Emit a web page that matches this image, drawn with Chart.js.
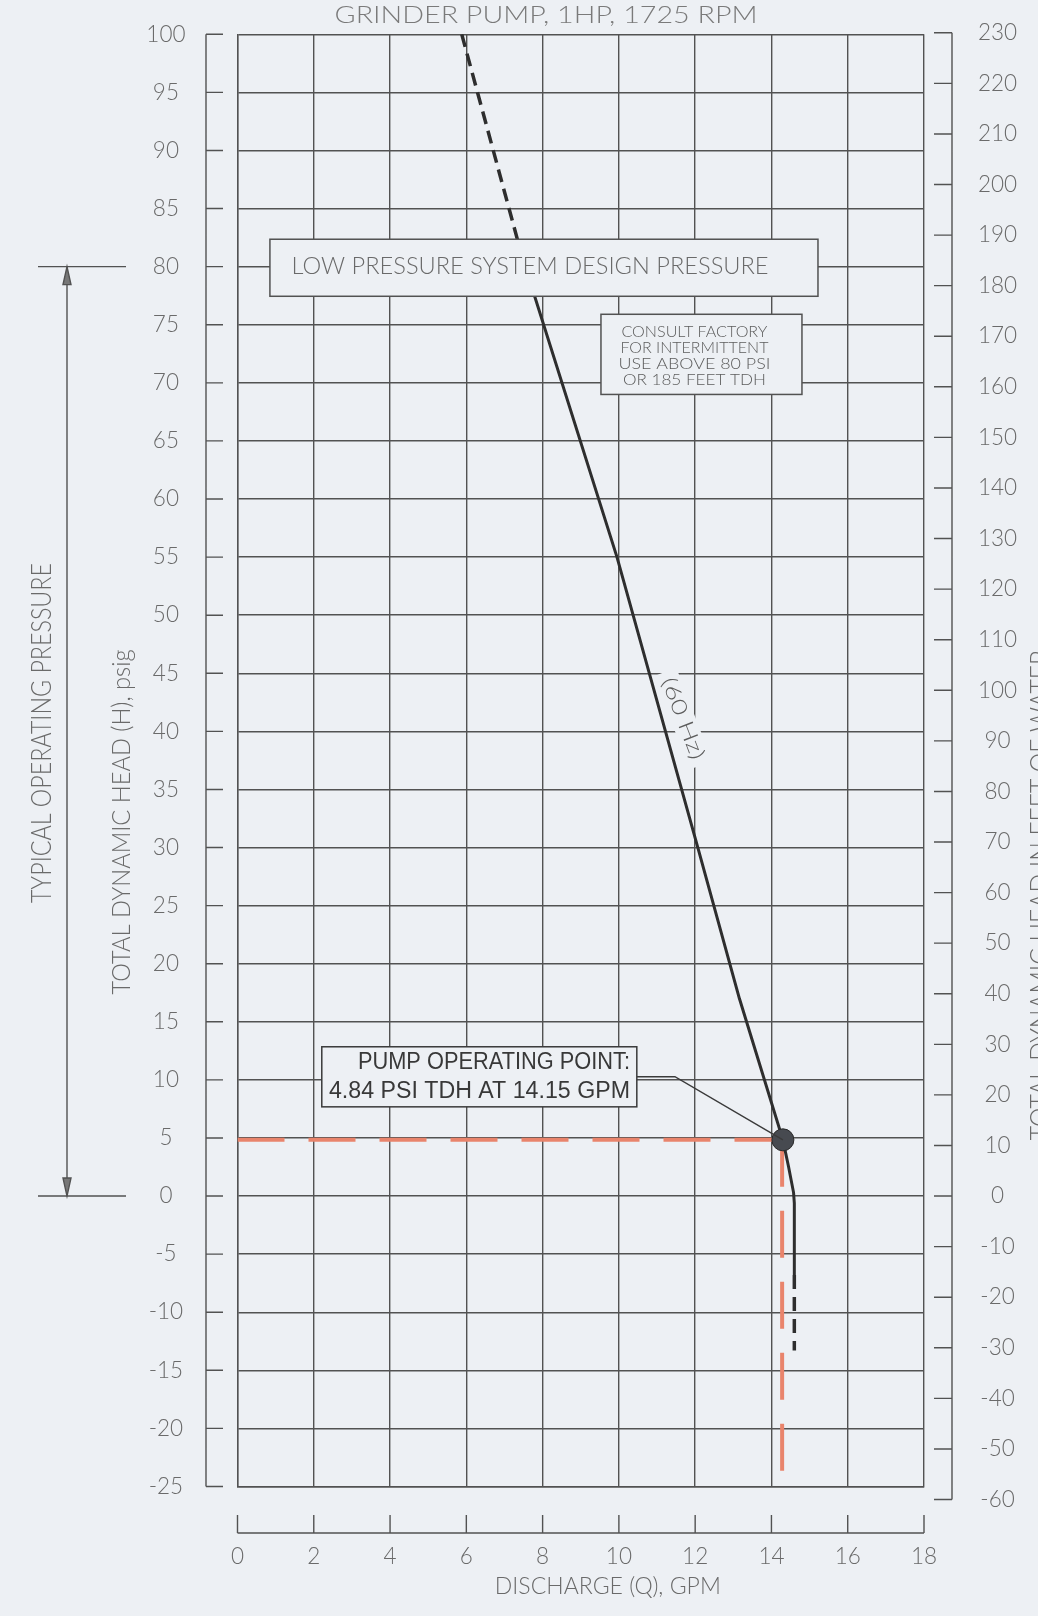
<!DOCTYPE html>
<html>
<head>
<meta charset="utf-8">
<title>Grinder pump curve</title>
<script src="https://cdn.jsdelivr.net/npm/chart.js@4.4.1/dist/chart.umd.min.js"></script>
<style>
  html, body { margin: 0; padding: 0; background: #edf0f4; }
  #wrap { width: 1038px; height: 1616px; position: relative; }
</style>
</head>
<body>
<div id="wrap"><canvas id="pump-chart"></canvas></div>
<script>
// values: discharge in GPM, head in psig
const curveSolid = [
  [7.45, 81], [9.95, 55], [12.07, 30], [13.16, 17], [14.3, 4.84],
  [14.45, 2.5], [14.58, 0.3], [14.6, -0.6], [14.6, -6.8]
];
const curveTopDashed = [[5.88, 100], [7.45, 81]];
const curveBottomDashed = [[14.6, -6.8], [14.6, -13.3]];
const operatingPoint = [[14.3, 4.84]];
const guideHorizontal = [[0, 4.84], [14.28, 4.84]];
const guideVertical = [[14.28, 4.84], [14.28, -25]];

const gpmTicks = [0, 2, 4, 6, 8, 10, 12, 14, 16, 18];
const psiTicks = [-25, -20, -15, -10, -5, 0, 5, 10, 15, 20, 25, 30, 35, 40, 45, 50, 55, 60, 65, 70, 75, 80, 85, 90, 95, 100];
const feetTicks = [-60, -50, -40, -30, -20, -10, 0, 10, 20, 30, 40, 50, 60, 70, 80, 90, 100, 110, 120, 130, 140, 150, 160, 170, 180, 190, 200, 210, 220, 230];
const FEET_PER_PSI = 2.297;
const designPressure = 80;

const titleText = 'GRINDER PUMP, 1HP, 1725 RPM';
const xTitle = 'DISCHARGE (Q), GPM';
const yTitle = 'TOTAL DYNAMIC HEAD (H), psig';
const y2Title = 'TOTAL DYNAMIC HEAD IN FEET OF WATER';
const rangeTitle = 'TYPICAL OPERATING PRESSURE';
const designNote = 'LOW PRESSURE SYSTEM DESIGN PRESSURE';
const consultNote = ['CONSULT FACTORY', 'FOR INTERMITTENT', 'USE ABOVE 80 PSI', 'OR 185 FEET TDH'];
const opNote = ['PUMP OPERATING POINT:', '4.84 PSI TDH AT 14.15 GPM'];
const curveLabel = '(60 Hz)';

const paper = '#edf0f4';
const ink = '#525252';
const cadText = '#6a6a6a';
const cadFont = size => `300 ${size}px Lato, "DejaVu Sans", sans-serif`;
const guideColor = '#e9846c';

const toPoints = arr => arr.map(([x, y]) => ({ x, y }));

// draws text squeezed/stretched to a given width, like the CAD lettering
const fitText = (ctx, text, cx, cy, width, font, color, angle = 0, align = 'center') => {
  ctx.save();
  ctx.font = font;
  ctx.fillStyle = color;
  ctx.textAlign = align;
  ctx.textBaseline = 'middle';
  ctx.translate(cx, cy);
  ctx.rotate(angle);
  const w = ctx.measureText(text).width;
  ctx.scale(width / w, 1);
  ctx.fillText(text, 0, 0);
  ctx.restore();
};

const boxAt = (ctx, x1, y1, x2, y2, stroke) => {
  ctx.fillStyle = paper;
  ctx.fillRect(x1, y1, x2 - x1, y2 - y1);
  ctx.strokeStyle = stroke || ink;
  ctx.lineWidth = 1.5;
  ctx.strokeRect(x1, y1, x2 - x1, y2 - y1);
};

const noScalePadding = s => {
  s.paddingTop = 0;
  s.paddingBottom = 0;
  s.paddingLeft = 0;
  s.paddingRight = 0;
};

const paperBackground = {
  id: 'paperBackground',
  beforeDraw(chart) {
    const ctx = chart.ctx;
    ctx.save();
    ctx.fillStyle = paper;
    ctx.fillRect(0, 0, chart.width, chart.height);
    ctx.restore();
  }
};

const drawingNotes = {
  id: 'drawingNotes',
  afterDraw(chart) {
    const { ctx, chartArea: area, scales } = chart;
    const px = v => scales.x.getPixelForValue(v);
    const py = v => scales.y.getPixelForValue(v);
    const pf = v => scales.y2.getPixelForValue(v);
    ctx.save();
    ctx.strokeStyle = ink;
    ctx.lineWidth = 1.4;

    // detached left axis
    const lx = area.left - 31.5;
    ctx.beginPath();
    ctx.moveTo(lx, py(100));
    ctx.lineTo(lx, py(-25));
    psiTicks.forEach(v => { ctx.moveTo(lx, py(v)); ctx.lineTo(lx + 17, py(v)); });
    // detached right axis
    const rx = area.right + 28;
    ctx.moveTo(rx, pf(230));
    ctx.lineTo(rx, pf(-60));
    feetTicks.forEach(v => { ctx.moveTo(rx, pf(v)); ctx.lineTo(rx - 18, pf(v)); });
    // detached bottom axis
    const by = area.bottom + 46.5;
    ctx.moveTo(px(0), by);
    ctx.lineTo(px(18), by);
    gpmTicks.forEach(v => { ctx.moveTo(px(v), by); ctx.lineTo(px(v), by - 18); });
    ctx.stroke();

    // typical operating pressure dimension
    const dx = 67;
    const top = py(designPressure), bot = py(0);
    ctx.beginPath();
    ctx.moveTo(38, top); ctx.lineTo(126, top);
    ctx.moveTo(38, bot); ctx.lineTo(126, bot);
    ctx.moveTo(dx, top); ctx.lineTo(dx, bot);
    ctx.stroke();
    ctx.fillStyle = '#777';
    [[top, 1], [bot, -1]].forEach(([y, d]) => {
      ctx.beginPath();
      ctx.moveTo(dx, y);
      ctx.lineTo(dx - 4, y + d * 18);
      ctx.lineTo(dx + 4, y + d * 18);
      ctx.closePath();
      ctx.fill();
      ctx.stroke();
    });

    // design pressure box
    boxAt(ctx, px(0.85), py(82.36), px(15.22), py(77.45));
    fitText(ctx, designNote, px(7.67), py(designPressure), 477, cadFont(24), cadText);

    // consult factory box
    boxAt(ctx, px(9.53), py(75.9), px(14.8), py(69.0));
    const consultY = [74.35, 72.98, 71.6, 70.2];
    const consultW = [146, 148, 152, 143];
    consultNote.forEach((t, i) => fitText(ctx, t, px(11.98), py(consultY[i]), consultW[i], cadFont(15), '#5c5c5c'));

    // curve label
    const rot = 69 * Math.PI / 180;
    ctx.save();
    ctx.translate(px(11.68), py(41.1));
    ctx.rotate(rot);
    ctx.fillStyle = paper;
    ctx.fillRect(-50, -12, 100, 24);
    ctx.restore();
    fitText(ctx, curveLabel, px(11.68), py(41.1), 86, cadFont(21), '#5c5c5c', rot);

    // operating point leader + box
    ctx.strokeStyle = '#3a3a3a';
    ctx.lineWidth = 1.4;
    ctx.beginPath();
    ctx.moveTo(px(10.47), py(10.27));
    ctx.lineTo(px(11.47), py(10.27));
    ctx.lineTo(px(operatingPoint[0][0]), py(operatingPoint[0][1]));
    ctx.stroke();
    boxAt(ctx, px(2.21), py(12.85), px(10.47), py(7.68), '#3a3a3a');
    const opFont = '23px "Liberation Sans", Arial, sans-serif';
    fitText(ctx, opNote[0], px(10.29), py(11.45), 272, opFont, '#383838', 0, 'right');
    fitText(ctx, opNote[1], px(10.29), py(8.95), 301, opFont, '#383838', 0, 'right');

    // titles
    fitText(ctx, titleText, px(8.09), area.top - 19, 423, cadFont(24), '#7a7a7a');
    fitText(ctx, xTitle, px(9.71), area.bottom + 100, 226, cadFont(24), cadText);
    fitText(ctx, yTitle, area.left - 115.5, py(32.2), 345, cadFont(26), cadText, -Math.PI / 2);
    fitText(ctx, rangeTitle, 42, py(39.85), 340, cadFont(27), cadText, -Math.PI / 2);
    fitText(ctx, y2Title, area.right + 117, py(25.9), 490, cadFont(27), cadText, -Math.PI / 2);
    ctx.restore();
  }
};

const tickFont = { family: 'Lato, "DejaVu Sans", sans-serif', size: 22.5, weight: 300 };
const lineSet = (data, extra) => Object.assign({
  data: toPoints(data), showLine: true, pointRadius: 0, borderColor: '#2e2e2e',
  borderWidth: 3, tension: 0, fill: false
}, extra);

new Chart(document.getElementById('pump-chart'), {
  type: 'scatter',
  data: {
    datasets: [
      { data: toPoints(operatingPoint), showLine: false, pointRadius: 11,
        pointBackgroundColor: '#474a50', pointBorderColor: '#2a2a2a', pointBorderWidth: 1 },
      lineSet(curveSolid),
      lineSet(curveTopDashed, { borderDash: [13, 7], borderWidth: 3.5 }),
      lineSet(curveBottomDashed, { borderDash: [14, 8], borderWidth: 3.5 }),
      lineSet(guideHorizontal, { borderColor: guideColor, borderWidth: 4, borderDash: [47, 24] }),
      lineSet(guideVertical, { borderColor: guideColor, borderWidth: 4, borderDash: [47, 24] })
    ]
  },
  options: {
    responsive: true,
    maintainAspectRatio: false,
    animation: false,
    layout: { padding: { top: 34.3, left: 0, right: 0, bottom: 0 } },
    plugins: { legend: { display: false }, tooltip: { enabled: false } },
    scales: {
      x: {
        type: 'linear', min: 0, max: 18,
        afterBuildTicks: s => { s.ticks = gpmTicks.map(value => ({ value })); },
        afterFit: s => { s.height = 129.5; noScalePadding(s); },
        grid: { color: ink, lineWidth: 1.4, drawTicks: false },
        border: { color: ink, width: 1.4 },
        ticks: { padding: 57, color: cadText, font: tickFont, maxRotation: 0 }
      },
      y: {
        type: 'linear', min: -25, max: 100,
        afterBuildTicks: s => { s.ticks = psiTicks.map(value => ({ value })); },
        afterFit: s => { s.width = 237.5; noScalePadding(s); },
        grid: { color: ink, lineWidth: 1.4, drawTicks: false },
        border: { color: ink, width: 1.4 },
        ticks: { padding: 52, crossAlign: 'center', color: cadText, font: tickFont, autoSkip: false }
      },
      y2: {
        type: 'linear', position: 'right',
        min: -25 * FEET_PER_PSI, max: 100 * FEET_PER_PSI,
        afterBuildTicks: s => { s.ticks = feetTicks.map(value => ({ value })); },
        afterFit: s => { s.width = 114; noScalePadding(s); },
        grid: { display: false, drawTicks: false },
        border: { display: false },
        ticks: { padding: 54, crossAlign: 'center', color: cadText, font: tickFont, autoSkip: false }
      }
    }
  },
  plugins: [paperBackground, drawingNotes]
});
</script>
</body>
</html>
